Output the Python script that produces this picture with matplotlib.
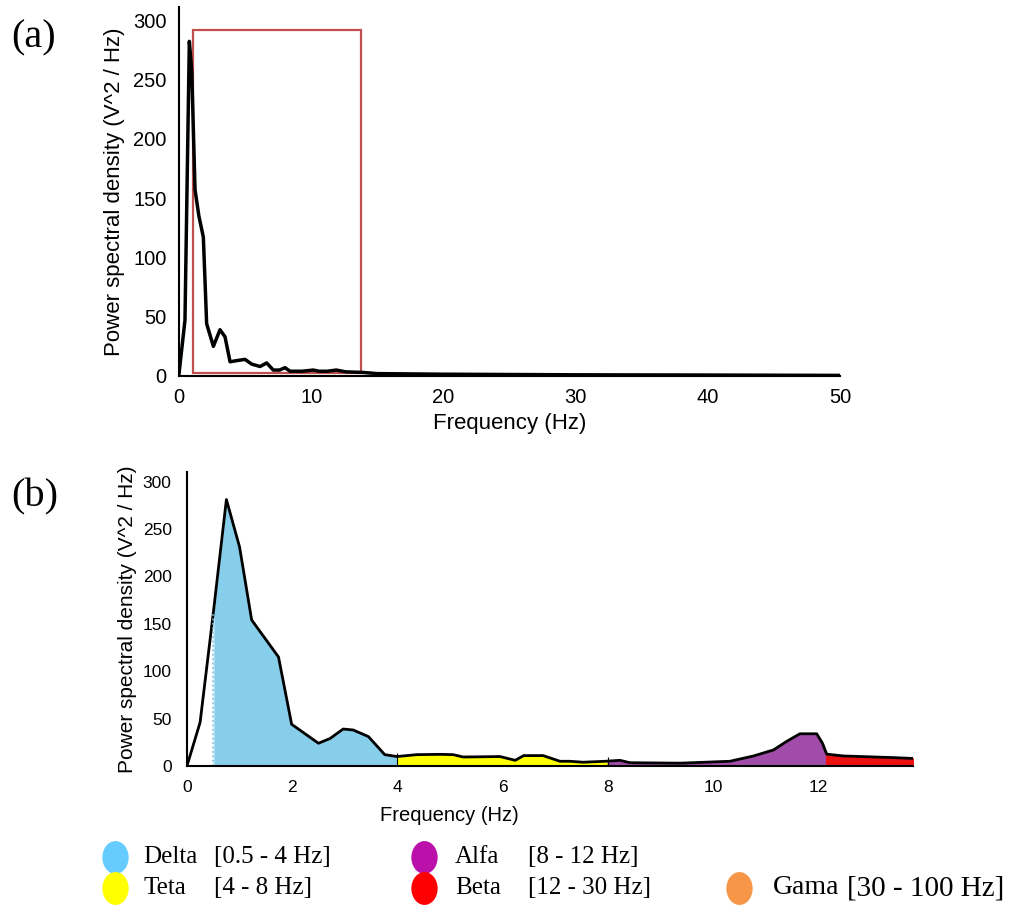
import matplotlib.pyplot as pyplot
from matplotlib.patches import Rectangle
from matplotlib.markers import MarkerStyle
from matplotlib.transforms import Affine2D
import numpy

pyplot.rcParams['font.family'] = ['Liberation Sans', 'DejaVu Sans']

# panel (a): full spectrum 0 - 50 Hz
freq_a = [0, 0.45, 0.78, 0.96, 1.21, 1.5, 1.84, 2.09, 2.6, 3.1, 3.48, 3.86, 4.4, 4.99,
          5.5, 6.13, 6.63, 7.13, 7.6, 8.02, 8.4, 9.3, 10.16, 10.6, 11.2, 11.9, 12.6,
          13.9, 15, 20, 30, 40, 50]
psd_a = [2, 47, 282, 258, 157, 135, 117, 44, 25, 39, 33, 12, 13, 14,
         10, 8, 11, 5, 5, 7, 4, 4, 5, 4, 4, 5, 3.5,
         3, 2, 1.5, 1, 0.8, 0.5]
zoom_box = (1.06, 13.8, 2.5, 292)  # x0, x1, y0, y1

# panel (b): zoom 0 - 13.8 Hz
freq_b = [0, 0.25, 0.5, 0.75, 1.0, 1.23, 1.74, 1.99, 2.5, 2.72, 2.97, 3.16, 3.45, 3.76,
          3.99, 4.37, 4.81, 5.06, 5.25, 5.95, 6.24, 6.4, 6.77, 7.09, 7.28, 7.53, 7.95,
          8.23, 8.42, 9.37, 10.32, 10.77, 11.15, 11.4, 11.65, 11.97, 12.08, 12.16,
          12.48, 13.37, 13.8]
psd_b = [0, 46, 161, 281, 231, 154, 115, 44, 24, 29, 39, 38, 31, 12,
         10, 12, 12.3, 12, 9.5, 10, 6, 11, 11, 5, 5, 4, 5,
         6, 3.5, 3, 5, 10.6, 17, 26, 34, 34, 24, 12.5,
         10.6, 9, 8]

band_names = ['Delta', 'Teta', 'Alfa', 'Beta', 'Gama']
band_ranges = ['[0.5 - 4 Hz]', '[4 - 8 Hz]', '[8 - 12 Hz]', '[12 - 30 Hz]', '[30 - 100 Hz]']
band_fill_edges = [0.5, 4, 8, 12.15, 13.8]
band_fill_colors = ['#87ceeb', '#ffff00', '#a04ca8', '#ee1111']
band_legend_colors = ['#66ccff', '#ffff00', '#bb11aa', '#ff0000', '#f79646']

fig = pyplot.figure(figsize=(10.16, 9.06), dpi=100)

# ---- panel (a)
ax1 = fig.add_axes([0.1762, 0.585, 0.6506, 0.4073])
ax1.plot(freq_a, psd_a, color='black', linewidth=2.5)
x0, x1, y0, y1 = zoom_box
ax1.add_patch(Rectangle((x0, y0), x1 - x0, y1 - y0, fill=False, edgecolor='#c0504d', linewidth=1.6))
ax1.set_xlim(0, 50)
ax1.set_ylim(0, 311)
ax1.set_xticks([0, 10, 20, 30, 40, 50])
ax1.set_yticks([0, 50, 100, 150, 200, 250, 300])
ax1.set_xlabel('Frequency (Hz)', fontsize=16, labelpad=4)
ax1.set_ylabel('Power spectral density (V^2 / Hz)', fontsize=16, labelpad=6)
ax1.tick_params(length=0, labelsize=14.5)
ax1.tick_params(axis='x', pad=9)
ax1.tick_params(axis='y', pad=9)

# ---- panel (b)
ax2 = fig.add_axes([0.184, 0.1545, 0.7146, 0.3245])
fb = numpy.array(freq_b)
pb = numpy.array(psd_b)
for i, color in enumerate(band_fill_colors):
    lo, hi = band_fill_edges[i], band_fill_edges[i + 1]
    xs = numpy.concatenate([[lo], fb[(fb > lo) & (fb < hi)], [hi]])
    ys = numpy.interp(xs, fb, pb)
    ax2.fill_between(xs, 0, ys, color=color, edgecolor='#dff4fb' if i == 0 else color, linewidth=1)
ax2.plot(fb, pb, color='black', linewidth=2)
ax2.vlines(0.5, 0, numpy.interp(0.5, fb, pb), colors='#7fbfe0', linestyles=':', linewidth=1.2)
for edge in [4, 8]:
    ax2.vlines(edge, 0, numpy.interp(edge, fb, pb) + 4, colors='black', linewidth=0.8)
ax2.set_xlim(0, 13.8)
ax2.set_ylim(0, 310)
ax2.set_xticks([0, 2, 4, 6, 8, 10, 12])
ax2.set_yticks([0, 50, 100, 150, 200, 250, 300])
ax2.set_xlabel('Frequency (Hz)', fontsize=14.5)
ax2.xaxis.set_label_coords(0.362, -0.135)
ax2.set_ylabel('Power spectral density (V^2 / Hz)', fontsize=15, labelpad=4)
ax2.tick_params(length=0, labelsize=12.5)
ax2.tick_params(axis='x', pad=10)
ax2.tick_params(axis='y', pad=11)

for ax in [ax1, ax2]:
    for side in ['top', 'right']:
        ax.spines[side].set_visible(False)
    ax.spines['left'].set_linewidth(1.5)
    ax.spines['bottom'].set_linewidth(1.5)

fig.text(0.011, 0.958, '(a)', fontsize=29, family='Liberation Serif', va='center')
fig.text(0.011, 0.452, '(b)', fontsize=29, family='Liberation Serif', va='center')

# ---- legend
lax = fig.add_axes([0, 0, 1, 1])
lax.set_xlim(0, 1016)
lax.set_ylim(906, 0)
lax.axis('off')
col_x = [115, 424, 739]
row_y = [857, 888]
name_gap = [28, 31, 34]
range_gap = [71, 73, 74]
slots = [(0, 0), (0, 1), (1, 0), (1, 1), (2, 1)]
oval = MarkerStyle('o', transform=Affine2D().scale(0.8, 1.0))
for i, name in enumerate(band_names):
    c, r = slots[i]
    lax.scatter([col_x[c]], [row_y[r]], s=560, marker=oval, color=band_legend_colors[i], linewidths=0)
    size = 20 if name == 'Gama' else 18
    tx = col_x[c] + name_gap[c]
    lax.text(tx, row_y[r], name, fontsize=size, family='Liberation Serif', va='center', ha='left')
    lax.text(tx + range_gap[c], row_y[r], band_ranges[i], fontsize=size + 1 if name == 'Gama' else size,
             family='Liberation Serif', va='center', ha='left')

fig.savefig('out.png', dpi=100)
